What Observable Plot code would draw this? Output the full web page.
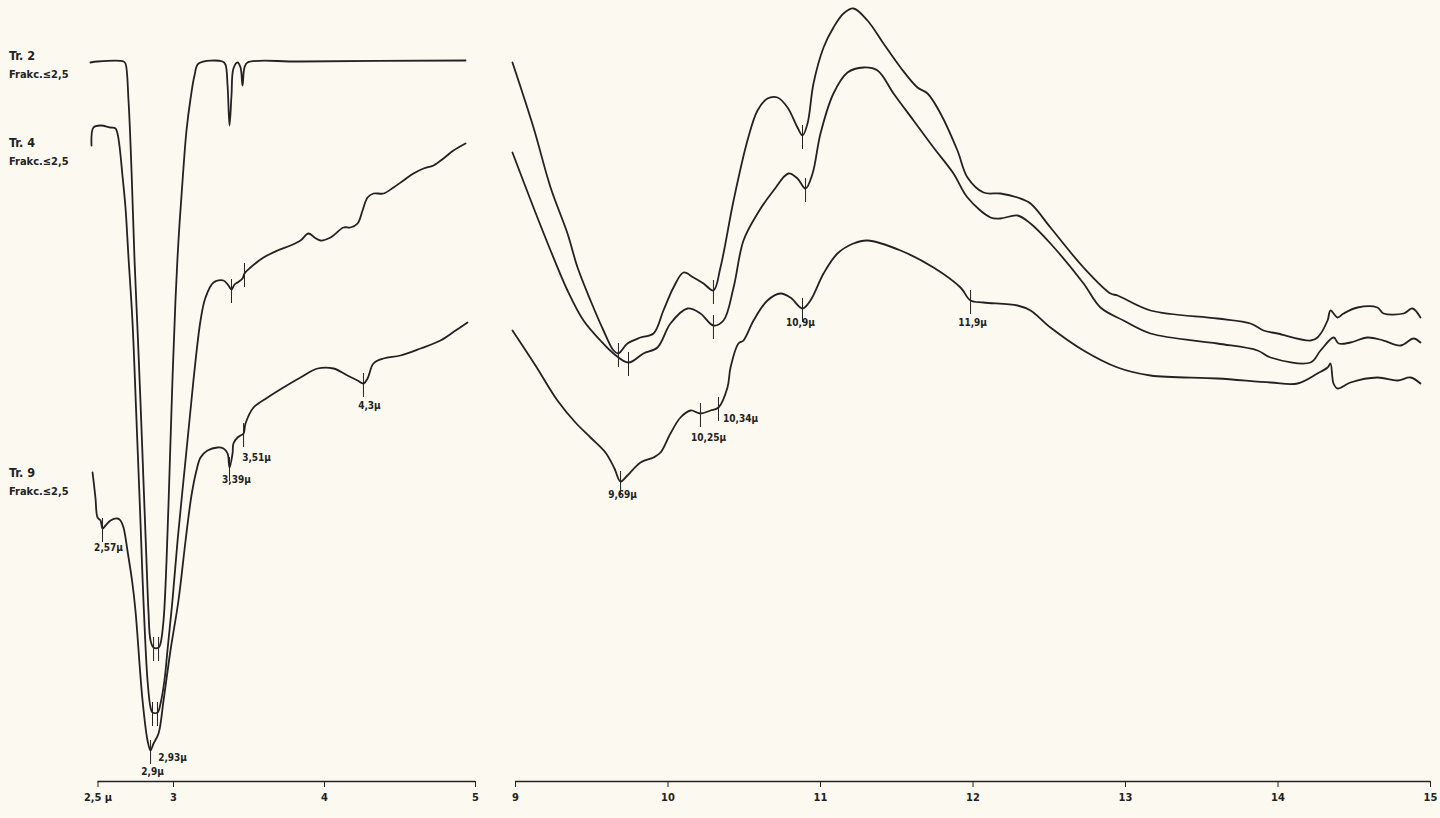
<!DOCTYPE html>
<html><head><meta charset="utf-8">
<script src="https://cdn.jsdelivr.net/npm/d3@7"></script>
<script src="https://cdn.jsdelivr.net/npm/@observablehq/plot@0.6"></script>
<style>
html,body{margin:0;padding:0;background:#fbf9f0;overflow:hidden}
#wrap{display:flex;width:1440px;height:818px}
#wrap svg{display:block}
</style></head><body><div id="wrap"></div>
<script>
// wavelength in µm, relative transmittance (arbitrary units)
const tr2Short = [[2.450,71.9],[2.497,72.0],[2.669,72.0],[2.682,71.8],[2.702,68.1],[2.722,61.1],[2.742,52.1],[2.762,45.1],[2.781,38.1],[2.801,30.1],[2.821,22.1],[2.834,17.1],[2.848,14.1],[2.868,13.4],[2.901,13.4],[2.914,13.8],[2.934,16.1],[2.954,22.1],[2.974,31.1],[2.993,40.1],[3.013,48.1],[3.033,54.1],[3.060,60.1],[3.086,65.1],[3.113,68.3],[3.139,70.6],[3.166,71.8],[3.325,72.0],[3.344,71.7],[3.358,69.6],[3.371,65.6],[3.384,68.6],[3.397,71.3],[3.424,71.9],[3.444,71.4],[3.457,69.6],[3.470,71.4],[3.490,71.9],[3.841,72.0],[4.934,72.1]];
const tr4Short = [[2.457,63.6],[2.470,65.4],[2.517,65.6],[2.583,65.4],[2.616,65.3],[2.629,64.8],[2.642,63.6],[2.662,60.6],[2.682,57.4],[2.702,52.4],[2.728,46.1],[2.755,36.1],[2.781,26.1],[2.801,18.1],[2.828,10.1],[2.848,7.4],[2.861,6.9],[2.894,6.9],[2.914,7.8],[2.940,10.1],[2.960,13.1],[2.993,18.1],[3.027,24.1],[3.086,33.1],[3.132,40.1],[3.179,46.1],[3.212,48.4],[3.265,49.9],[3.331,50.1],[3.364,49.6],[3.384,49.2],[3.404,49.7],[3.424,49.9],[3.457,50.3],[3.470,50.8],[3.510,51.4],[3.596,52.4],[3.689,53.1],[3.775,53.6],[3.841,54.1],[3.894,54.8],[3.934,54.4],[3.974,54.1],[4.040,54.4],[4.126,55.4],[4.172,55.4],[4.219,55.8],[4.252,57.1],[4.285,58.4],[4.324,58.8],[4.391,58.8],[4.457,59.4],[4.523,60.1],[4.589,60.8],[4.656,61.3],[4.722,61.6],[4.788,62.3],[4.854,63.1],[4.934,63.8]];
const tr9Short = [[2.464,30.9],[2.483,28.4],[2.497,26.4],[2.517,26.1],[2.530,25.3],[2.550,25.6],[2.583,26.1],[2.629,26.3],[2.649,26.1],[2.669,25.4],[2.695,23.1],[2.728,19.8],[2.748,17.1],[2.795,8.1],[2.828,4.1],[2.848,3.1],[2.868,3.8],[2.901,4.8],[2.934,8.1],[2.980,13.1],[3.033,18.1],[3.080,24.1],[3.119,28.6],[3.152,31.1],[3.179,32.4],[3.225,33.1],[3.291,33.4],[3.331,33.3],[3.358,32.8],[3.371,31.4],[3.391,32.8],[3.397,33.8],[3.424,34.4],[3.444,34.6],[3.464,34.8],[3.477,35.8],[3.530,37.4],[3.623,38.4],[3.728,39.4],[3.841,40.4],[3.954,41.3],[4.060,41.3],[4.152,40.6],[4.219,40.1],[4.258,39.8],[4.285,40.3],[4.324,41.8],[4.391,42.3],[4.503,42.6],[4.636,43.3],[4.768,44.1],[4.868,45.1],[4.947,45.9]];

const tr2Long = [[8.980,71.9],[9.118,65.4],[9.230,59.4],[9.341,54.8],[9.407,51.4],[9.492,48.1],[9.577,45.1],[9.643,43.1],[9.675,42.8],[9.734,43.8],[9.820,44.4],[9.905,44.8],[9.970,47.1],[10.036,49.4],[10.102,50.9],[10.167,50.4],[10.233,49.8],[10.298,49.1],[10.344,51.4],[10.430,58.1],[10.521,64.1],[10.587,67.1],[10.652,68.3],[10.718,68.4],[10.784,67.4],[10.849,65.4],[10.882,64.6],[10.915,65.8],[10.954,69.8],[11.020,73.4],[11.085,75.4],[11.151,76.8],[11.216,77.3],[11.308,76.1],[11.413,73.8],[11.525,71.4],[11.636,69.4],[11.702,68.8],[11.787,66.8],[11.898,63.1],[11.964,60.4],[12.069,58.9],[12.180,58.8],[12.292,58.4],[12.377,57.8],[12.508,55.4],[12.725,51.4],[12.902,48.8],[12.948,48.6],[13.164,47.1],[13.603,46.3],[13.820,45.8],[13.905,45.1],[13.997,44.8],[14.213,44.1],[14.259,44.4],[14.325,46.1],[14.344,47.1],[14.390,46.4],[14.430,46.8],[14.521,47.4],[14.652,47.4],[14.692,46.8],[14.823,46.8],[14.882,47.3],[14.934,46.4]];
const tr4Long = [[8.980,62.9],[9.118,57.4],[9.230,53.1],[9.341,49.1],[9.446,46.1],[9.557,44.1],[9.643,42.8],[9.741,41.9],[9.839,42.8],[9.931,43.4],[10.016,45.8],[10.128,47.3],[10.213,46.8],[10.298,45.6],[10.364,46.1],[10.430,49.4],[10.495,54.1],[10.587,56.8],[10.692,59.1],[10.790,60.8],[10.849,60.3],[10.902,59.3],[10.948,60.8],[11.000,64.8],[11.085,68.8],[11.177,70.9],[11.282,71.4],[11.374,71.1],[11.479,68.8],[11.610,66.1],[11.741,63.4],[11.872,60.8],[11.964,58.4],[12.115,56.4],[12.180,56.3],[12.292,56.6],[12.377,55.8],[12.508,53.8],[12.725,49.8],[12.836,47.4],[12.987,46.1],[13.164,44.8],[13.603,43.8],[13.866,43.1],[13.951,42.4],[14.213,41.9],[14.279,43.1],[14.365,44.4],[14.398,43.8],[14.475,43.9],[14.587,44.4],[14.692,44.1],[14.803,43.6],[14.889,44.3],[14.934,43.9]];
const tr9Long = [[8.980,45.1],[9.131,41.6],[9.275,38.1],[9.393,35.9],[9.492,34.4],[9.590,32.9],[9.649,31.3],[9.689,30.0],[9.734,30.6],[9.820,31.9],[9.905,32.4],[9.951,32.9],[10.016,34.8],[10.082,36.4],[10.148,37.1],[10.213,36.8],[10.279,37.1],[10.331,37.4],[10.390,39.4],[10.410,41.4],[10.462,43.8],[10.495,44.1],[10.561,46.1],[10.652,48.1],[10.738,48.8],[10.803,48.4],[10.882,47.3],[10.934,48.1],[11.020,50.8],[11.111,52.8],[11.216,53.8],[11.308,54.1],[11.525,53.1],[11.741,51.4],[11.918,49.4],[11.984,48.1],[12.069,47.9],[12.292,47.6],[12.377,47.1],[12.508,45.4],[12.725,43.1],[12.948,41.4],[13.164,40.6],[13.603,40.3],[13.951,39.9],[14.128,39.8],[14.259,40.8],[14.325,41.4],[14.344,41.8],[14.364,39.8],[14.390,39.3],[14.475,39.9],[14.652,40.4],[14.784,40.1],[14.869,40.4],[14.934,39.8]];

// series labels
const seriesNames = ["Tr. 2", "Tr. 4", "Tr. 9"];
const fractionLabel = "Frakc.≤2,5";

// axis ticks
const shortTicks = [2.5, 3, 4, 5];
const longTicks = [9, 10, 11, 12, 13, 14, 15];

// marked band positions [µm, value]
const shortMarks = [[2.530,25.3],[2.848,3.1],[3.371,31.4],[3.464,34.8],[4.258,39.8],[3.384,49.2],[3.470,50.8],[2.861,6.9],[2.894,6.9],[2.868,13.4],[2.901,13.4]];
const longMarks = [[9.675,42.8],[10.298,49.1],[10.882,64.6],[9.741,41.9],[10.298,45.6],[10.902,59.3],[9.689,30.0],[10.213,36.8],[10.331,37.4],[10.882,47.3],[11.984,48.1]];

// band annotations (Tr. 9): text, µm, value
const shortBandText = ["2,57µ", "2,93µ", "2,9µ", "3,39µ", "3,51µ", "4,3µ"];
const shortBandX = [2.530, 2.848, 2.848, 3.371, 3.464, 4.258];
const shortBandV = [25.3, 3.1, 3.1, 31.4, 34.8, 39.8];
const longBandText = ["9,69µ", "10,25µ", "10,34µ", "10,9µ", "11,9µ"];
const longBandX = [9.689, 10.213, 10.331, 10.882, 11.984];
const longBandV = [30.0, 36.8, 37.4, 47.3, 48.1];

// ---- build tables ----
const toRows = (arr, s) => arr.map(([x, v]) => ({x, v, series: s}));
const shortRows = [...toRows(tr2Short, seriesNames[0]), ...toRows(tr4Short, seriesNames[1]), ...toRows(tr9Short, seriesNames[2])];
const longRows = [...toRows(tr2Long, seriesNames[0]), ...toRows(tr4Long, seriesNames[1]), ...toRows(tr9Long, seriesNames[2])];
const markRows = arr => arr.map(([x, v]) => ({x, v}));
const shortBandOffsets = [[6,19],[22,7],[2,21],[7,12],[13,24],[6,22]];
const longBandOffsets = [[2,13],[8,24],[22,11],[-2,14],[2,22]];
const bandRows = (t, xs, vs, off) => t.map((text, i) => ({text, x: xs[i], v: vs[i], dx: off[i][0], dy: off[i][1]}));
const shortBands = bandRows(shortBandText, shortBandX, shortBandV, shortBandOffsets);
const longBands = bandRows(longBandText, longBandX, longBandV, longBandOffsets);
const starts = [tr2Short, tr4Short, tr9Short].map(a => a[0][1]);
const nameDy = [-7, -3, 0];
const nameRows = seriesNames.map((n, i) => ({name: n, v: starts[i], dy: nameDy[i]}));

const ink = "#222222";
const font = "'DejaVu Sans Condensed', 'DejaVu Sans', sans-serif";
const common = {
  height: 818, marginTop: 1, marginBottom: 37,
  y: {domain: [0, 78], axis: null},
  style: {background: "transparent", fontFamily: font, color: ink, overflow: "visible"}
};

const bandMarks = rows => rows.map(r => Plot.text([r], {x: "x", y: "v", text: "text", dx: r.dx, dy: r.dy, fontSize: 10, fontWeight: "bold", fill: ink}));
const lineOpts = {x: "x", y: "v", z: "series", stroke: ink, strokeWidth: 1.8, strokeLinejoin: "round", curve: "catmull-rom"};

const left = Plot.plot({
  ...common,
  width: 495, marginLeft: 97.5, marginRight: 20,
  x: {domain: [2.5, 5], axis: null},
  marks: [
    Plot.ruleY([0], {stroke: ink, strokeWidth: 1.4}),
    Plot.axisX({ticks: shortTicks, tickFormat: d => d === 2.5 ? "2,5 µ" : String(d), label: null, tickSize: 6, tickPadding: 6, fontSize: 11, fontWeight: "bold", stroke: ink}),
    Plot.line(shortRows, lineOpts),
    Plot.ruleX(markRows(shortMarks), {x: "x", y1: d => d.v + 1.0, y2: d => d.v - 1.4, stroke: ink, strokeWidth: 1}),
    ...bandMarks(shortBands),
    ...nameRows.map(r => Plot.text([r], {frameAnchor: "left", y: "v", text: "name", dx: -89, dy: r.dy, textAnchor: "start", fontSize: 12.5, fontWeight: "bold", fill: ink})),
    ...nameRows.map(r => Plot.text([r], {frameAnchor: "left", y: "v", text: () => fractionLabel, dx: -89, dy: r.dy + 19, textAnchor: "start", fontSize: 11, fontWeight: "bold", fill: ink}))
  ]
});

const right = Plot.plot({
  ...common,
  width: 945, marginLeft: 20, marginRight: 10,
  x: {domain: [9, 15], axis: null},
  marks: [
    Plot.ruleY([0], {stroke: ink, strokeWidth: 1.4}),
    Plot.axisX({ticks: longTicks, tickFormat: d => String(d), label: null, tickSize: 6, tickPadding: 6, fontSize: 11, fontWeight: "bold", stroke: ink}),
    Plot.line(longRows, lineOpts),
    Plot.ruleX(markRows(longMarks), {x: "x", y1: d => d.v + 1.0, y2: d => d.v - 1.4, stroke: ink, strokeWidth: 1}),
    ...bandMarks(longBands)
  ]
});

document.getElementById("wrap").append(left, right);
</script></body></html>
